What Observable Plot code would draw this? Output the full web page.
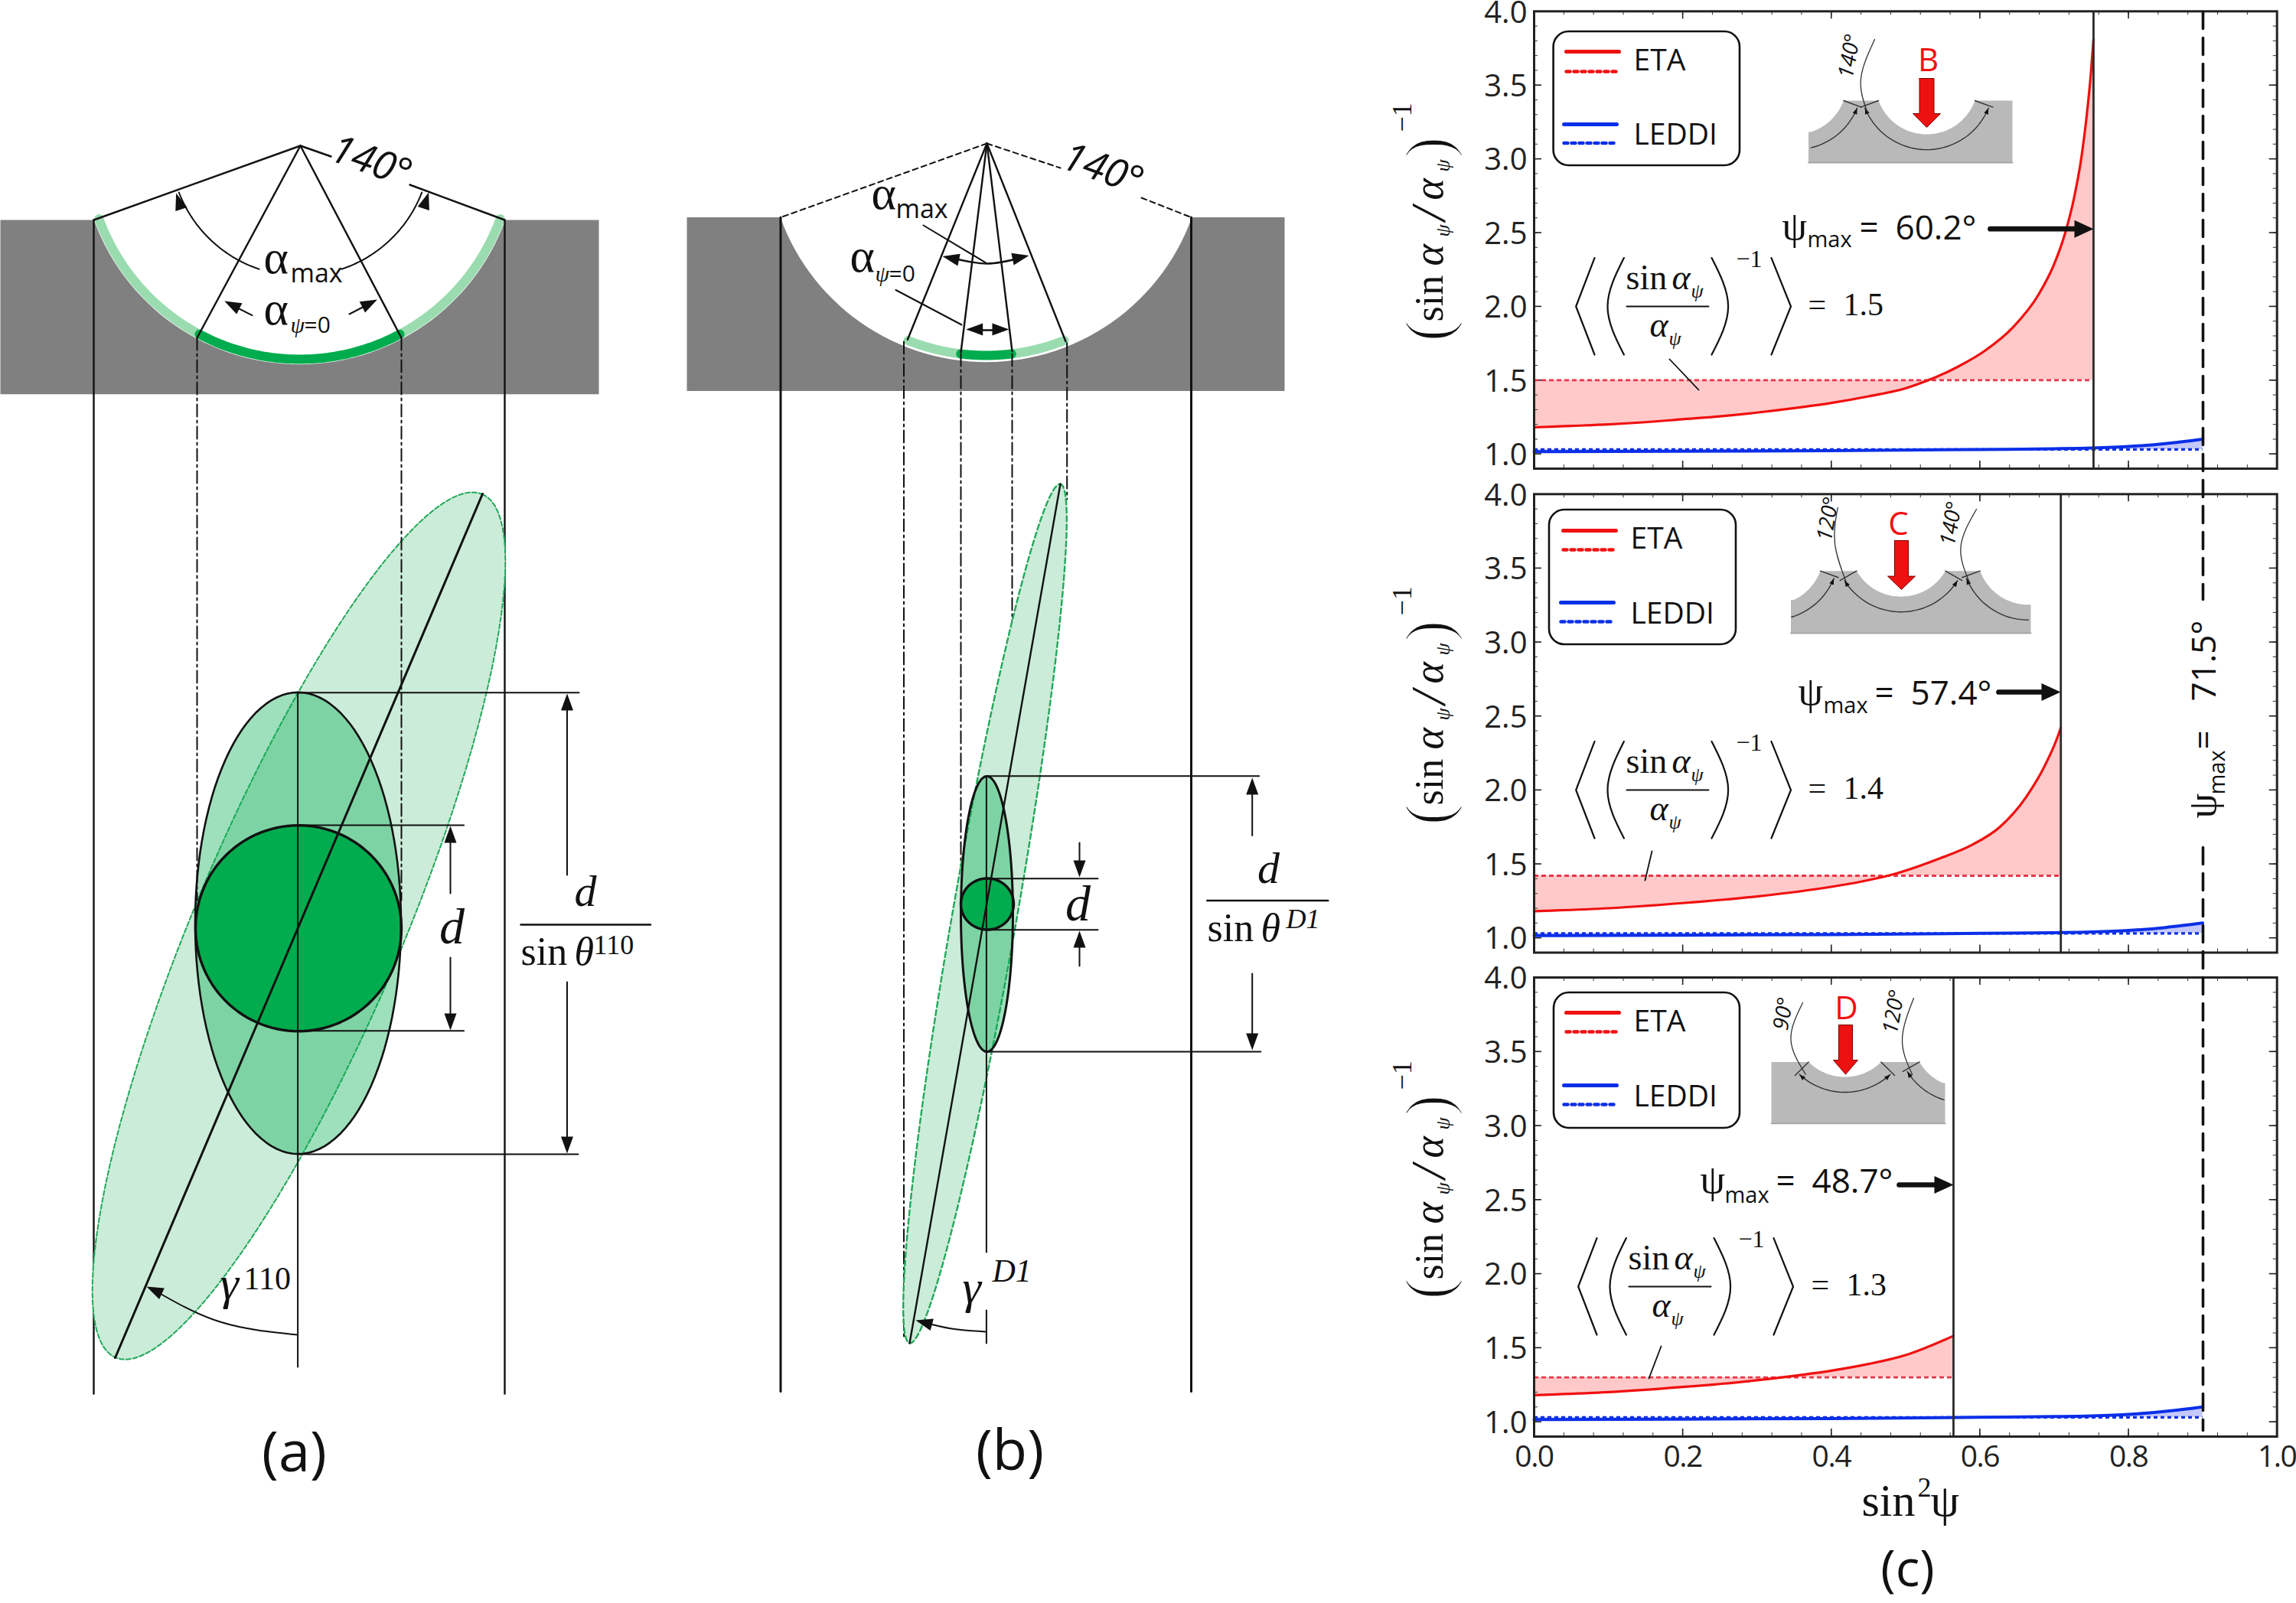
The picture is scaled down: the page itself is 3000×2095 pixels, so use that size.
<!DOCTYPE html>
<html><head><meta charset="utf-8">
<script src="https://cdn.jsdelivr.net/npm/d3@7"></script>
<script src="https://cdn.jsdelivr.net/npm/@observablehq/plot@0.6"></script>
<style>html,body{margin:0;padding:0;background:#fff}#page{position:relative;width:3000px;height:2095px;overflow:hidden}#page svg{position:absolute;left:0;top:0}</style>
</head><body><div id="page"></div>
<script>
// ---- series values
const xEtaB = [0,.05,.1,.15,.2,.25,.3,.35,.4,.45,.5,.531,.57,.607,.645,.679,.6995,.715,.727,.737,.744,.7493,.753];
const yEtaB = [1.18,1.19,1.2,1.215,1.235,1.255,1.28,1.31,1.345,1.39,1.445,1.5,1.59,1.70,1.86,2.08,2.28,2.5,2.74,3.02,3.3,3.57,3.81];
const xEtaC = [0,.1,.2,.3,.4,.44,.48,.515,.545,.59,.627,.662,.686,.703,.709];
const yEtaC = [1.18,1.2,1.235,1.28,1.345,1.38,1.425,1.48,1.535,1.63,1.75,1.95,2.15,2.337,2.42];
const xEtaD = [0,.1,.2,.3,.35,.4,.45,.5,.5645];
const yEtaD = [1.18,1.2,1.235,1.28,1.31,1.345,1.39,1.45,1.58];
const xLeddi = [0,.2,.4,.6,.7,.75,.8,.85,.9];
const yLeddi = [1.015,1.018,1.022,1.03,1.035,1.04,1.05,1.07,1.1];
const avgEta = [1.5,1.42,1.3];
const avgLeddi = 1.03;
const psiMaxLabels = ["60.2°","57.4°","48.7°"];
const avgLabels = ["1.5","1.4","1.3"];
const insetLetters = ["B","C","D"];
const seriesNames = ["ETA","LEDDI"];
const xTicks = [0,.2,.4,.6,.8,1];
const yTicks = [1,1.5,2,2.5,3,3.5,4];
const RED="#f01010", BLUE="#0b2fe8", SANS="Open Sans", SERIF="Liberation Serif";

const zip=(xs,ys)=>xs.map((x,i)=>({x,y:ys[i]}));
const panels=[
 {top:14.3,bottom:612,eta:zip(xEtaB,yEtaB),avg:avgEta[0],xmax:.753,xAxis:false},
 {top:645.3,bottom:1244.5,eta:zip(xEtaC,yEtaC),avg:avgEta[1],xmax:.709,xAxis:false},
 {top:1277,bottom:1877,eta:zip(xEtaD,yEtaD),avg:avgEta[2],xmax:.5645,xAxis:true}
];
const leddi=zip(xLeddi,yLeddi);
const minorX=d3.range(0,1.001,.04), minorY=d3.range(1,4.001,.1);
const page=document.getElementById("page");
const base={width:3000,height:2095,style:{background:"transparent",overflow:"visible"}};

panels.forEach(p=>{
 const pxX=1/970.7, pxY=3.1/(p.bottom-p.top);
 const marks=[
  Plot.areaY(leddi,{x:"x",y1:()=>avgLeddi,y2:"y",fill:"#c4c8fa",curve:"monotone-x"}),
  Plot.areaY(p.eta,{x:"x",y1:()=>p.avg,y2:"y",fill:"#ffc9c9",curve:"monotone-x"}),
  Plot.ruleX(minorX,{x:d=>d,y1:.9,y2:.9+5*pxY,stroke:"#333",strokeWidth:1}),
  Plot.ruleX(minorX,{x:d=>d,y1:4,y2:4-5*pxY,stroke:"#333",strokeWidth:1}),
  Plot.ruleX(xTicks,{x:d=>d,y1:.9,y2:.9+10*pxY,stroke:"#222",strokeWidth:1.6}),
  Plot.ruleX(xTicks,{x:d=>d,y1:4,y2:4-10*pxY,stroke:"#222",strokeWidth:1.6}),
  Plot.ruleY(minorY,{y:d=>d,x1:0,x2:5*pxX,stroke:"#333",strokeWidth:1}),
  Plot.ruleY(minorY,{y:d=>d,x1:1,x2:1-5*pxX,stroke:"#333",strokeWidth:1}),
  Plot.ruleY(yTicks,{y:d=>d,x1:0,x2:10*pxX,stroke:"#222",strokeWidth:1.6}),
  Plot.ruleY(yTicks,{y:d=>d,x1:1,x2:1-10*pxX,stroke:"#222",strokeWidth:1.6}),
  Plot.ruleY([p.avg],{x1:0,x2:p.xmax,stroke:"#e8374a",strokeWidth:2.8,strokeDasharray:"6,4"}),
  Plot.ruleY([avgLeddi],{x1:0,x2:.9,stroke:BLUE,strokeWidth:3.2,strokeDasharray:"5,4"}),
  Plot.line(leddi,{x:"x",y:"y",stroke:BLUE,strokeWidth:4,curve:"monotone-x"}),
  Plot.line(p.eta,{x:"x",y:"y",stroke:RED,strokeWidth:3.2,curve:"monotone-x"}),
  Plot.ruleX([p.xmax],{y1:.9,y2:4,stroke:"#2a2a2a",strokeWidth:2.8}),
  Plot.frame({stroke:"#222",strokeWidth:3}),
  Plot.axisY({ticks:yTicks,tickSize:0,tickPadding:9,dy:2,tickFormat:d3.format(".1f"),fontSize:40,fontFamily:SANS,fill:"#222",label:null})
 ];
 if(p.xAxis) marks.push(Plot.axisX({ticks:xTicks,tickSize:0,tickPadding:12,tickFormat:d3.format(".1f"),fontSize:39,fontFamily:SANS,fill:"#222",label:null}));
 const svg=Plot.plot({...base,marginLeft:2004,marginRight:25.3,marginTop:p.top,marginBottom:2095-p.bottom,
  x:{domain:[0,1],...(p.xAxis?{}:{axis:null})},y:{domain:[.9,4],axis:null},marks});
 svg.querySelectorAll('[aria-label="x-axis tick label"] text').forEach(t=>t.style.letterSpacing="-1.5px");
 page.append(svg);
});

// ---- schematic helpers (page-unit space)
const rad=Math.PI/180;
const arc=(cx,cy,r,a0,a1,n=60)=>d3.range(n+1).map(i=>{const a=(a0+(a1-a0)*i/n)*rad;return [cx+r*Math.sin(a),cy+r*Math.cos(a)];});
const ell=(cx,cy,a,b,g,n=120)=>d3.range(n+1).map(i=>{const t=i/n*2*Math.PI,u=a*Math.cos(t),v=b*Math.sin(t),s=Math.sin(g*rad),c=Math.cos(g*rad);return [cx+u*s+v*c,cy-u*c+v*s];});
const D=[];
const L=(pts,o={})=>D.push(Plot.line(pts,{x:d=>d[0],y:d=>d[1],stroke:"#111",strokeWidth:2.4,...o}));
const P=(pts,fill,o={})=>D.push(Plot.line(pts,{x:d=>d[0],y:d=>d[1],fill,stroke:"none",...o}));
const T=(s,x,y,size,o={})=>D.push(Plot.text([s],{x:()=>x,y:()=>y,text:d=>d,fontSize:size,fontFamily:SERIF,textAnchor:"start",lineAnchor:"bottom",fill:"#111",...o}));
const head=(x,y,ang,len=22,w=16)=>{const c=Math.cos(ang*rad),s=Math.sin(ang*rad);P([[x,y],[x-len*c-w/2*s,y-len*s+w/2*c],[x-len*c+w/2*s,y-len*s-w/2*c],[x,y]],"#111");};
const DD="16,5,3,5", G1="#9adcb0", G2="#00ac4e", GL="#cbecd8", GD="#22a85a";

// ---- panel (a)
P([[0,287],[782,287],[782,514.7],[0,514.7],[0,287]],"#808080");
P([...arc(391,190,285.7,-70,70),[659.5,280],[122.5,280]],"#fff");
L(arc(391,190,279,-70,-28),{stroke:G1,strokeWidth:12});
L(arc(391,190,279,28,70),{stroke:G1,strokeWidth:12});
L(arc(391,190,279,-28,28),{stroke:G2,strokeWidth:12});
L([[122,287],[122,1821]]); L([[659,287],[659,1821]]);
L([[392,190],[122,287]]); L([[392,190],[432,204]]); L([[535,241],[659,287]]);
L([[392,190],[257,441]]); L([[392,190],[524,441]]);
L(arc(392,190,170,-69,-18.5),{strokeWidth:2}); L(arc(392,190,170,18.5,69),{strokeWidth:2});
head(229.6,252,-108); head(559.6,251,-72);
L([[329,411.6],[300,397]],{strokeWidth:2}); head(292.7,393,207);
L([[456,410],[485,395]],{strokeWidth:2}); head(492.5,391,-27);
P(ell(390,1209.5,613,135,23),GL);
L(ell(390,1209.5,613,135,23),{stroke:GD,strokeWidth:2,strokeDasharray:"6,3"});
D.push(Plot.line(ell(389,1206,301.6,134.5,0),{x:d=>d[0],y:d=>d[1],fill:G2,fillOpacity:.38,stroke:"none"}));
L([[257,441],[257,1176]],{strokeDasharray:DD,strokeWidth:2}); L([[524,441],[524,1176]],{strokeDasharray:DD,strokeWidth:2});
P(ell(389.5,1212.7,134.5,134.5,0),G2);
L(ell(389,1206,301.6,134.5,0),{strokeWidth:2.6});
L(ell(389.5,1212.7,134.5,134.5,0),{strokeWidth:3.4});
L([[630,645],[150,1774]],{strokeWidth:3});
L([[388.6,904.7],[388.6,1786]],{strokeWidth:2});
L([[389,904.7],[756,904.7]],{strokeWidth:2}); L([[389,1078],[605.6,1078]],{strokeWidth:2});
L([[389,1346.7],[605.6,1346.7]],{strokeWidth:2}); L([[389,1508],[755,1508]],{strokeWidth:2});
L([[740.5,925],[740.5,1143]],{strokeWidth:2}); L([[740.5,1283],[740.5,1490]],{strokeWidth:2});
head(740.5,906,-90); head(740.5,1507,90);
L([[588,1095],[588,1167]],{strokeWidth:2}); L([[588,1251],[588,1330]],{strokeWidth:2});
head(588,1079,-90); head(588,1346,90);
L([[388.6,1744],[287,1727],[198,1684]],{strokeWidth:2,curve:"natural"}); head(191,1681,205);
L([[680,1208],[849.5,1208]],{strokeWidth:2.4});

// ---- panel (b)
P([[897,283.6],[1678,283.6],[1678,510.6],[897,510.6],[897,283.6]],"#808080");
P([...arc(1288,187,285.7,-70,70),[1556.5,277],[1019.5,277]],"#fff");
L(arc(1288,187,277,-21.6,-6.9),{stroke:G1,strokeWidth:12});
L(arc(1288,187,277,6.9,21.6),{stroke:G1,strokeWidth:12});
L(arc(1288,187,277,-6.9,6.9),{stroke:G2,strokeWidth:12});
L([[1019.5,283.6],[1019.5,1818]],{strokeWidth:3}); L([[1556,283.6],[1556,1818]],{strokeWidth:3});
L([[1289,187],[1019.5,283.6]],{strokeDasharray:"7,5",strokeWidth:2});
L([[1289,187],[1385,219]],{strokeDasharray:"7,5",strokeWidth:2}); L([[1491,258],[1556,283.6]],{strokeDasharray:"7,5",strokeWidth:2});
for(const [x,y] of [[1185.4,443.3],[1255,460],[1322,458.5],[1392,445.8]]) L([[1289,187],[x,y]],{strokeWidth:2.4});
for(const [x,y0,y1] of [[1180.5,446,1748],[1255,462,1160],[1322,462,1173],[1393.7,448,652]]) L([[x,y0],[x,y1]],{strokeDasharray:DD,strokeWidth:2});
P(ell(1286.5,1193.5,570,42,9.95),GL);
L(ell(1286.5,1193.5,570,42,9.95),{stroke:GD,strokeWidth:2.4,strokeDasharray:"7,4"});
D.push(Plot.line(ell(1289,1194,180,34,0),{x:d=>d[0],y:d=>d[1],fill:G2,fillOpacity:.38,stroke:"none"}));
P(ell(1289.5,1181,33.5,34.5,0),G2);
L(ell(1289,1194,180,34,0),{strokeWidth:3});
L(ell(1289.5,1181,33.5,34.5,0),{strokeWidth:3.4});
L([[1385,632],[1188,1755]],{strokeWidth:2.4});
L([[1288.4,1013.8],[1288.4,1636]],{strokeWidth:2}); L([[1288.4,1712],[1288.4,1755]],{strokeWidth:2});
L([[1288,1013.8],[1644.6,1013.8]],{strokeWidth:2}); L([[1288,1374],[1646.8,1374]],{strokeWidth:2});
L([[1288,1147.8],[1434,1147.8]],{strokeWidth:2}); L([[1288,1214.8],[1434,1214.8]],{strokeWidth:2});
L([[1635.7,1091.6],[1635.7,1035]],{strokeWidth:2}); head(1635.7,1016,-90);
L([[1635.7,1272],[1635.7,1355]],{strokeWidth:2}); head(1635.7,1372,90);
L([[1410,1101],[1410,1130]],{strokeWidth:2}); head(1410,1146,90);
L([[1410,1262],[1410,1234]],{strokeWidth:2}); head(1410,1216,-90);
L([[1206,294],[1287.5,342.8]],{strokeWidth:2});
L([[1240,336],[1289,344],[1335,336]],{strokeWidth:2.4,curve:"natural"}); head(1231,334.6,192); head(1344,333.6,-12);
L([[1170,378.5],[1256,424]],{strokeWidth:2});
L([[1272,431],[1308,431]],{strokeWidth:2.4}); head(1261.7,430,180); head(1318,430,0);
L([[1287.5,1740],[1243,1736],[1204,1727]],{strokeWidth:2,curve:"natural"}); head(1196,1725,195);
L([[1576.8,1176.5],[1734.8,1176.5]],{strokeWidth:2.4});

// ---- panel (c): dashed rule, math brackets, legends, insets
L([[2878,15],[2878,783]],{strokeWidth:3.6,strokeDasharray:"22,12"});
L([[2878,1107],[2878,1869]],{strokeWidth:3.6,strokeDasharray:"22,12"});
L([[2600,298.7],[2712,298.7]],{strokeWidth:6.7}); head(2735,298.7,0,25,23);
L([[2611,904],[2670,904]],{strokeWidth:6.7}); head(2692,904,0,25,23);
L([[2481,1548],[2530,1548]],{strokeWidth:6.7}); head(2552,1548,0,25,23);

const brace=(dx,dy)=>{
 L([[2083+dx,336.6+dy],[2058.7+dx,400+dy],[2083+dx,463+dy]],{strokeWidth:2.2});
 L([[2314+dx,336.6+dy],[2339.5+dx,400+dy],[2314+dx,463+dy]],{strokeWidth:2.2});
 L([[2121.4+dx,336.6+dy],[2100+dx,400+dy],[2121.4+dx,463+dy]],{strokeWidth:2.2,curve:"natural"});
 L([[2236+dx,336.6+dy],[2257.6+dx,400+dy],[2236+dx,463+dy]],{strokeWidth:2.2,curve:"natural"});
 L([[2125+dx,400+dy],[2232+dx,400+dy]],{strokeWidth:2});
 T("sin",2124+dx,377+dy,46);
 T("α",2184+dx,377+dy,46,{fontStyle:"italic"});
 T("ψ",2209+dx,388+dy,26,{fontStyle:"italic"});
 T("α",2155+dx,439+dy,46,{fontStyle:"italic"});
 T("ψ",2180+dx,450+dy,26,{fontStyle:"italic"});
 T("−1",2268+dx,348+dy,32);
};
brace(0,0);brace(0,632);brace(3,1281);
[[2362,411],[2362,1043],[2366,1692]].forEach(([x,y],i)=>{T("=",x,y,42);T(avgLabels[i],x+46,y,42);});
L([[2181,469],[2219,509]],{strokeWidth:1.8});
L([[2158,1112],[2149,1150]],{strokeWidth:1.8});
L([[2170,1759],[2154,1801]],{strokeWidth:1.8});

const legend=(x0,y0,x1,y1,lx,tx,ys,tys)=>{
 D.push(Plot.rect([0],{x1:()=>x0,x2:()=>x1,y1:()=>y0,y2:()=>y1,rx:20,fill:"#fff",stroke:"#111",strokeWidth:2.6}));
 L([[lx,ys[0]],[lx+69,ys[0]]],{stroke:RED,strokeWidth:5});
 L([[lx,ys[1]],[lx+69,ys[1]]],{stroke:RED,strokeWidth:4.5,strokeDasharray:"5,5"});
 L([[lx-3,ys[2]],[lx+66,ys[2]]],{stroke:BLUE,strokeWidth:5});
 L([[lx-3,ys[3]],[lx+66,ys[3]]],{stroke:BLUE,strokeWidth:4.5,strokeDasharray:"5,5"});
 T(seriesNames[0],tx,tys[0],39,{fontFamily:SANS});
 T(seriesNames[1],tx,tys[1],39,{fontFamily:SANS});
};
legend(2029.6,41,2273,216,2046,2134,[67,93,162,186.5],[91,188]);
legend(2024,666,2268,842,2042,2130,[693,718,787,812],[716,814]);
legend(2030,1297,2273,1474,2046,2134,[1323,1348,1418,1443],[1347,1445]);

const inset=(xL,xR,top,bottom,grooves)=>{
 const pts=[[xL,top]];
 for(const g of grooves){
  const cy=top-67*Math.cos(g.h*rad);
  for(const q of arc(g.cx,cy,67,-g.h,g.h,40)) if(q[0]>=xL&&q[0]<=xR) pts.push(q);
 }
 const first=pts[1];
 if(first[0]<xL+40&&grooves[0].cx<xL+60) pts.shift(), pts.unshift([xL,first[1]]);
 const last=pts[pts.length-1];
 if(last[1]<=top+1) pts.push([xR,top]); else pts.push([xR,last[1]]);
 pts.push([xR,bottom],[xL,bottom]);
 P(pts,"#b9b9b9");
 L([[xL,bottom],[xR,bottom]],{stroke:"#a6a6a6",strokeWidth:2});
 for(const g of grooves){
  const cy=top-67*Math.cos(g.h*rad);
  const a=arc(g.cx,cy,87,-g.h+2,g.h-2,40).filter(q=>q[0]>=xL&&q[0]<=xR);
  L(a,{strokeWidth:1.4,stroke:"#333"});
  for(const s of [-1,1]){
   const [ex,ey]=arc(g.cx,cy,67,s*g.h,s*g.h,1)[0], [fx,fy]=arc(g.cx,cy,92,s*g.h,s*g.h,1)[0];
   if(fx>=xL&&fx<=xR){
    L([[ex,ey],[fx,fy]],{strokeWidth:1.4,stroke:"#333"});
    const [hx,hy]=arc(g.cx,cy,87,s*(g.h-2),s*(g.h-2),1)[0];
    head(hx,hy,s>0?-(g.h-2):180+(g.h-2),8,6);
   }
  }
 }
};
const bigArrow=(cx,hw,w,y0,y1,tip,letter,lx,ly)=>{
 P([[cx-w,y0],[cx+w,y0],[cx+w,y1],[cx+hw,y1],[cx,tip],[cx-hw,y1],[cx-w,y1],[cx-w,y0]],"#ee1111",{stroke:"#7a0000",strokeWidth:1});
 T(letter,lx,ly,42,{fontFamily:SANS,fill:RED,textAnchor:"middle"});
};
inset(2362.5,2629,131,212,[{cx:2345.4,h:70},{cx:2517,h:70}]);
L([[2449,51],[2431,102],[2439,145]],{strokeWidth:1.3,curve:"natural",stroke:"#333"});
T("140°",2420,103,28,{fontFamily:SANS,fontStyle:"italic",rotate:-80});
bigArrow(2517,18,9.5,102,148,166,insetLetters[0],2519,92);

inset(2339.5,2653,745.7,827,[{cx:2315,h:70},{cx:2483.4,h:60},{cx:2649.7,h:70}]);
L([[2400.7,663],[2397,710],[2412,761]],{strokeWidth:1.3,curve:"natural",stroke:"#333"});
L([[2582,665],[2561.5,714],[2573,761]],{strokeWidth:1.3,curve:"natural",stroke:"#333"});
T("120°",2392,708,28,{fontFamily:SANS,fontStyle:"italic",rotate:-80});
T("140°",2553,714,28,{fontFamily:SANS,fontStyle:"italic",rotate:-80});
bigArrow(2484,18,9,706,752.6,770,insetLetters[1],2480,698);

inset(2314,2541,1387.4,1467.7,[{cx:2410,h:45},{cx:2565.5,h:60}]);
L([[2355,1310],[2339.5,1358],[2358.7,1403.6]],{strokeWidth:1.3,curve:"natural",stroke:"#333"});
L([[2500,1304],[2485,1358],[2498,1403.6]],{strokeWidth:1.3,curve:"natural",stroke:"#333"});
T("90°",2335,1347,28,{fontFamily:SANS,fontStyle:"italic",rotate:-80});
T("120°",2478,1352,28,{fontFamily:SANS,fontStyle:"italic",rotate:-80});
bigArrow(2411,16,9,1339,1385,1403.6,insetLetters[2],2412,1331);

// ---- text
const maxS=32;
T("α",344,356,62); T("max",379,368,maxS+2,{fontFamily:SANS});
T("α",344,423,62); T("ψ",379,434,30,{fontStyle:"italic"}); T("=0",397,434,30,{fontFamily:SANS});
T("140°",428,208,52,{fontFamily:SANS,fontStyle:"italic",rotate:20});
T("α",1138,272,62); T("max",1170,284,maxS+2,{fontFamily:SANS});
T("α",1110,354,62); T("ψ",1143,367,30,{fontStyle:"italic"}); T("=0",1161,367,30,{fontFamily:SANS});
T("140°",1384,218,52,{fontFamily:SANS,fontStyle:"italic",rotate:20});
T("d",590,1232,66,{fontStyle:"italic",textAnchor:"middle"});
T("d",764.6,1183,58,{fontStyle:"italic",textAnchor:"middle"});
T("sin ",680,1260,52); T("θ",750,1260,52,{fontStyle:"italic"}); T("110",775,1246,36);
T("γ",287,1697,62,{fontStyle:"italic"}); T("110",318,1684,42);
T("d",1408,1202,66,{fontStyle:"italic",textAnchor:"middle"});
T("d",1657,1153,58,{fontStyle:"italic",textAnchor:"middle"});
T("sin ",1577,1229,52); T("θ",1647,1229,52,{fontStyle:"italic"}); T("D1",1680,1212,36,{fontStyle:"italic"});
T("γ",1257,1702,62,{fontStyle:"italic"}); T("D1",1296,1674,42,{fontStyle:"italic"});
T("(a)",384,1922,74,{fontFamily:SANS,textAnchor:"middle"});
T("(b)",1319,1920,74,{fontFamily:SANS,textAnchor:"middle"});
T("(c)",2492,2072,66,{fontFamily:SANS,textAnchor:"middle"});
T("sin",2432,1980,60); T("2",2505,1955,36); T("ψ",2522,1980,60);

const psi=(px,sx,ex,b,sb,i)=>{T("ψ",px,b,52);T("max",sx,sb,29,{fontFamily:SANS});T("=",ex,b,44,{fontFamily:SANS});T(psiMaxLabels[i],ex+47,b,44,{fontFamily:SANS});};
psi(2328,2361,2429,312,322,0);
psi(2349,2382,2449,920,931,1);
psi(2221,2253,2320,1558,1571,2);
T("ψ",2894,1069,52,{rotate:-90}); T("max",2906,1038,29,{fontFamily:SANS,rotate:-90});
T("=",2894,979,44,{fontFamily:SANS,rotate:-90}); T("71.5°",2894,916,44,{fontFamily:SANS,rotate:-90});

[0,632,1252].forEach(o=>{
 const b=1884, thin={rotate:-90,stroke:"#fff",strokeWidth:2.4,paintOrder:"fill"};
 T("(",b+9,446+o,84,thin);
 T("sin",b,420+o,52,{rotate:-90});
 T("α",b,347+o,54,{rotate:-90,fontStyle:"italic"});
 T("ψ",b+9,309+o,26,{rotate:-90,fontStyle:"italic"});
 T("/",b+3,288+o,64,{rotate:-90,fontStyle:"italic"});
 T("α",b,261+o,54,{rotate:-90,fontStyle:"italic"});
 T("ψ",b+9,224+o,26,{rotate:-90,fontStyle:"italic"});
 T(")",b+9,206+o,84,thin);
 T("−1",1843,172+o,36,{rotate:-90});
});

page.append(Plot.plot({...base,margin:0,x:{domain:[0,3000],axis:null},y:{domain:[0,2095],range:[0,2095],axis:null},marks:D}));
</script></body></html>
